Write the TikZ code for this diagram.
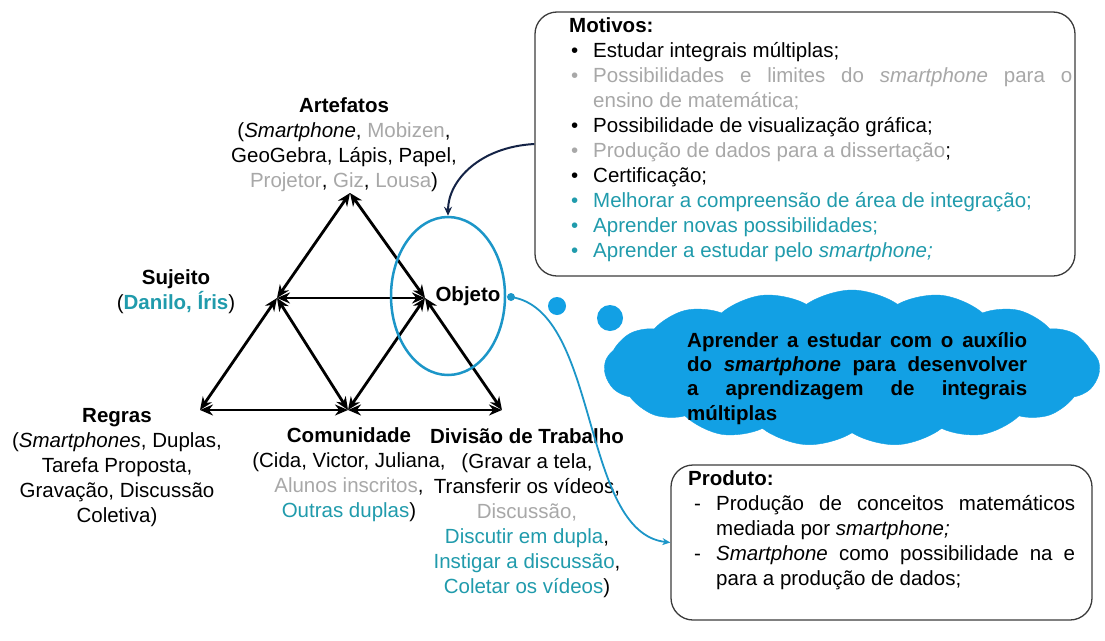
\documentclass[tikz,border=0pt]{standalone}
\usepackage{fontspec}
\setmainfont{Liberation Sans}
\usetikzlibrary{arrows.meta,shapes.geometric,shapes.symbols}

\definecolor{cinzaTxt}{RGB}{168,168,168}
\definecolor{verdeAgua}{RGB}{32,155,172}
\definecolor{azulElipse}{RGB}{28,150,200}
\definecolor{azulNuvem}{RGB}{18,160,228}
\definecolor{azulEscuro}{RGB}{20,35,70}
\definecolor{bordaCaixa}{RGB}{60,60,60}

\hyphenpenalty=10000
\exhyphenpenalty=10000
\tolerance=9999

% item com marcador (Motivos) e com traco (Produto)
\newcommand{\mitem}[2]{\par\noindent\hangindent=24pt\hangafter=1\makebox[24pt][l]{\hspace{2pt}\textcolor{#1}{\textbullet}}\textcolor{#1}{#2}}
\newcommand{\pitem}[1]{\par\noindent\hangindent=28pt\hangafter=1\makebox[28pt][l]{\hspace{6pt}-}#1}

\tikzset{
  texto/.style={font=\fontsize{20.5}{25}\selectfont, inner sep=0pt},
  seta/.style={{Stealth[length=13pt,width=11pt]}-{Stealth[length=13pt,width=11pt]}, line width=2.8pt},
  caixa/.style={draw=bordaCaixa, line width=1.3pt, rounded corners=22pt, inner sep=0pt},
  nuvem/.style={cloud, cloud puffs=17, cloud puff arc=70, cloud ignores aspect, minimum width=495pt, minimum height=156pt, fill=azulNuvem, draw=azulNuvem, inner sep=0pt},
  bolha/.style={circle, fill=azulNuvem, inner sep=0pt}
}

\begin{document}
\begin{tikzpicture}[x=1pt, y=-1pt]
		\fill[white] (0,0) rectangle (1105,640);
		\useasboundingbox (0,0) rectangle (1105,640);

		% --- TRIANGULO DA ATIVIDADE ---
		\coordinate (A) at (350,193);
		\coordinate (S) at (277,298);
		\coordinate (O) at (425,298);
		\coordinate (R) at (200,410);
		\coordinate (C) at (348,410);
		\coordinate (D) at (502,410);
		\foreach \a/\b in {A/S, A/O, S/O, S/R, S/C, O/C, O/D, R/C, C/D} {
			\draw[seta] (\a) -- (\b);
		}

		% --- ROTULOS DOS VERTICES ---
		\node[texto, align=center] (artefatos) at (344,145) {\textbf{Artefatos}\\(\textit{Smartphone}, \textcolor{cinzaTxt}{Mobizen},\\GeoGebra, Lápis, Papel,\\\textcolor{cinzaTxt}{Projetor}, \textcolor{cinzaTxt}{Giz}, \textcolor{cinzaTxt}{Lousa})};
		\node[texto, align=center] (sujeito) at (176,291.5) {\textbf{Sujeito}\\(\textcolor{verdeAgua}{\textbf{Danilo, Íris}})};
		\node[texto, align=center] (regras) at (117,467.5) {\textbf{Regras}\\(\textit{Smartphones}, Duplas,\\Tarefa Proposta,\\Gravação, Discussão\\Coletiva)};
		\node[texto, align=center] (comunidade) at (349,474.5) {\textbf{Comunidade}\\(Cida, Victor, Juliana,\\\textcolor{cinzaTxt}{Alunos inscritos},\\\textcolor{verdeAgua}{Outras duplas})};
		\node[texto, align=center] (divisao) at (527,513) {\textbf{Divisão de Trabalho}\\(Gravar a tela,\\Transferir os vídeos,\\\textcolor{cinzaTxt}{Discussão,}\\\textcolor{verdeAgua}{Discutir em dupla},\\\textcolor{verdeAgua}{Instigar a discussão},\\\textcolor{verdeAgua}{Coletar os vídeos})};

		% --- OBJETO ---
		\node[ellipse, draw=azulElipse, line width=2.5pt, minimum width=114pt, minimum height=158pt, inner sep=0pt] (elipse) at (448,296) {};
		\node[texto] (objeto) at (468,296) {\textbf{Objeto}};
		\node[circle, fill=azulElipse, minimum size=8pt, inner sep=0pt] (ponto) at (511,297) {};

		% --- MOTIVOS ---
		\node[caixa, minimum width=540pt, minimum height=264pt] (motivos) at (805,144) {};
		\node[texto, anchor=north west, text width=503pt, align=justify] (motivosTxt) at (569,17.5) {\textbf{Motivos:}
			\mitem{black}{Estudar integrais múltiplas;}
			\mitem{cinzaTxt}{Possibilidades e limites do \textit{smartphone} para o\linebreak ensino de matemática;}
			\mitem{black}{Possibilidade de visualização gráfica;}
			\mitem{cinzaTxt}{Produção de dados para a dissertação\textcolor{black}{;}}
			\mitem{black}{Certificação;}
			\mitem{verdeAgua}{Melhorar a compreensão de área de integração;}
			\mitem{verdeAgua}{Aprender novas possibilidades;}
			\mitem{verdeAgua}{Aprender a estudar pelo \textit{smartphone;}}\par};
		\draw[azulEscuro, line width=2pt, -{Stealth[length=9pt,width=8pt]}] (motivos.west) .. controls +(-55,3) and +(0,-35) .. (elipse.north);

		% --- NUVEM ---
		\node[bolha, minimum size=18pt] (bolha1) at (557,306) {};
		\node[bolha, minimum size=26pt] (bolha2) at (610,318) {};
		\node[nuvem] (nuvemObj) at (852,368) {};
		\node[texto, anchor=north west, text width=340pt, align=justify, font=\fontsize{20.5}{24.3}\selectfont\bfseries] (nuvemTxt) at (687,332) {Aprender a estudar com o auxílio\linebreak do \textit{smartphone} para desenvolver\linebreak a aprendizagem de integrais\linebreak múltiplas};

		% --- PRODUTO ---
		\node[caixa, minimum width=421pt, minimum height=155pt] (produto) at (881.5,542.5) {};
		\node[texto, anchor=north west, text width=387pt, align=justify] (produtoTxt) at (688,470) {\textbf{Produto:}
			\pitem{Produção de conceitos matemáticos mediada por \textit{smartphone;}}
			\pitem{\textit{Smartphone} como possibilidade na e para a produção de dados;}\par};
		\draw[azulElipse, line width=1.8pt, -{Stealth[length=8pt,width=7pt]}] (ponto.center) .. controls +(89,13) and +(-90,-10) .. (produto.west);

	\end{tikzpicture}
\end{document}
